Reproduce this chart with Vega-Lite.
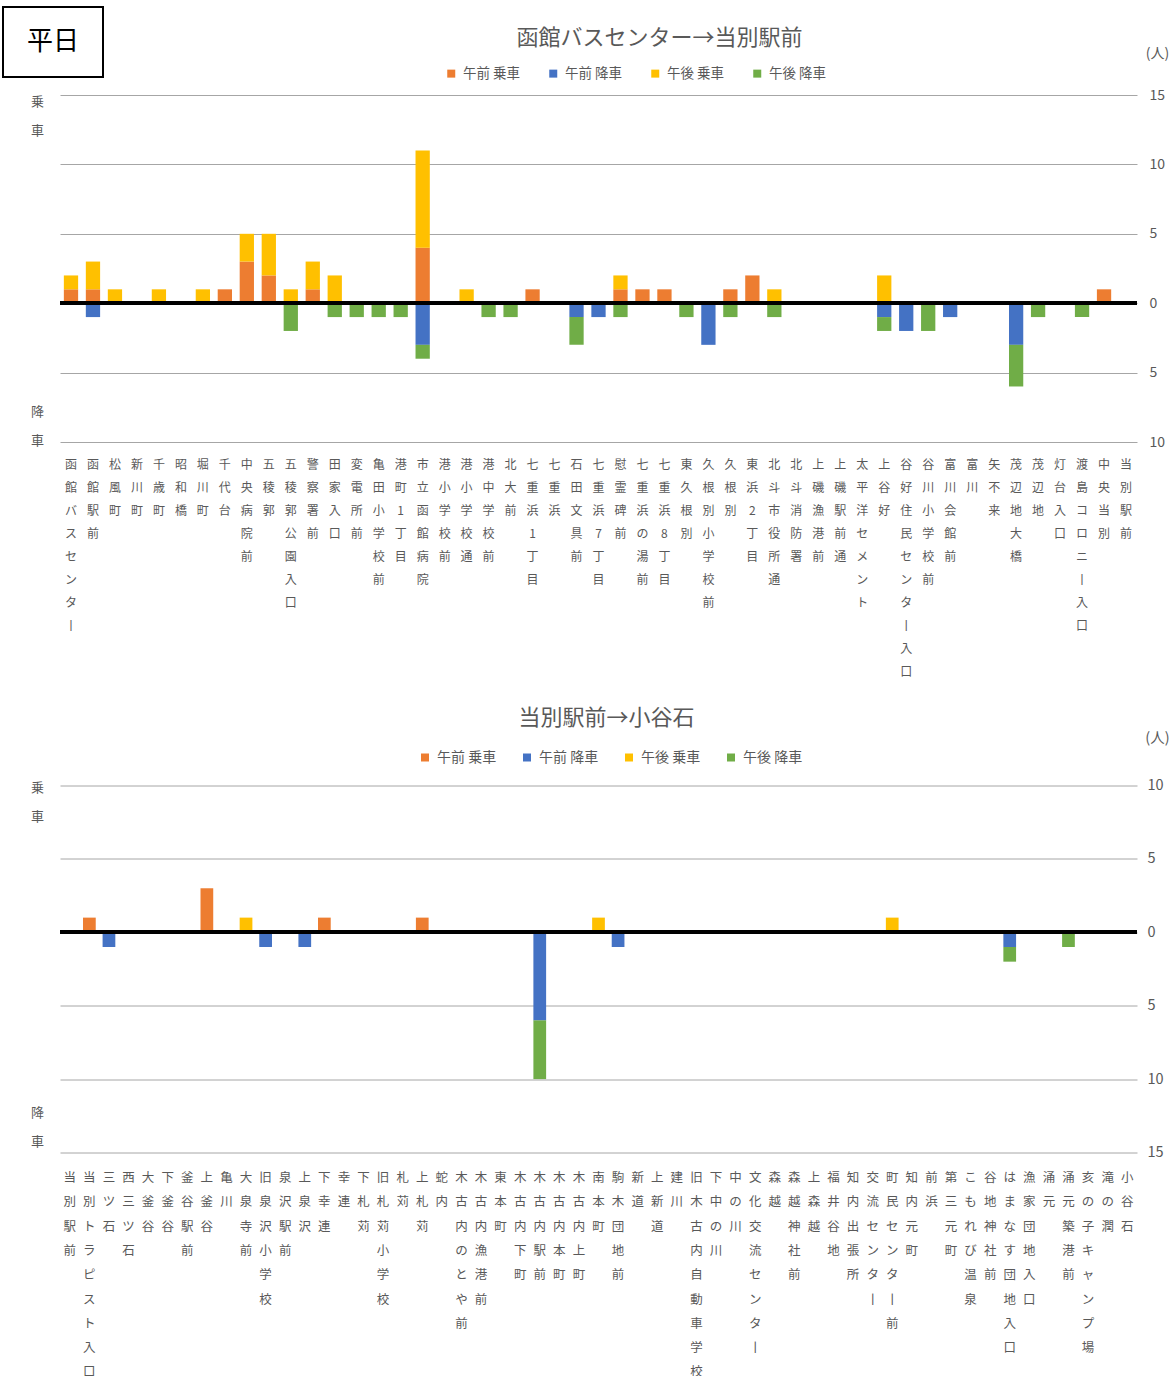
{
  "$schema": "https://vega.github.io/schema/vega-lite/v6.json",
  "background": "white",
  "padding": {"left": 2, "top": 6, "right": 0, "bottom": 0},
  "config": {
    "view": {"stroke": null},
    "font": "Noto Sans CJK JP",
    "axis": {"labelFont": "Noto Sans CJK JP", "titleFont": "Noto Sans CJK JP", "labelColor": "#595959", "titleColor": "#595959"},
    "legend": {"labelFont": "Noto Sans CJK JP", "labelColor": "#595959"},
    "title": {"font": "Noto Sans CJK JP", "fontSize": 22, "color": "#595959", "fontWeight": "normal", "anchor": "middle", "frame": "group"}
  },
  "datasets": {
    "outbound": [
      {"station": "函館バスセンター", "am_on": 1, "am_off": 0, "pm_on": 1, "pm_off": 0},
      {"station": "函館駅前", "am_on": 1, "am_off": -1, "pm_on": 2, "pm_off": 0},
      {"station": "松風町", "am_on": 0, "am_off": 0, "pm_on": 1, "pm_off": 0},
      {"station": "新川町", "am_on": 0, "am_off": 0, "pm_on": 0, "pm_off": 0},
      {"station": "千歳町", "am_on": 0, "am_off": 0, "pm_on": 1, "pm_off": 0},
      {"station": "昭和橋", "am_on": 0, "am_off": 0, "pm_on": 0, "pm_off": 0},
      {"station": "堀川町", "am_on": 0, "am_off": 0, "pm_on": 1, "pm_off": 0},
      {"station": "千代台", "am_on": 1, "am_off": 0, "pm_on": 0, "pm_off": 0},
      {"station": "中央病院前", "am_on": 3, "am_off": 0, "pm_on": 2, "pm_off": 0},
      {"station": "五稜郭", "am_on": 2, "am_off": 0, "pm_on": 3, "pm_off": 0},
      {"station": "五稜郭公園入口", "am_on": 0, "am_off": 0, "pm_on": 1, "pm_off": -2},
      {"station": "警察署前", "am_on": 1, "am_off": 0, "pm_on": 2, "pm_off": 0},
      {"station": "田家入口", "am_on": 0, "am_off": 0, "pm_on": 2, "pm_off": -1},
      {"station": "変電所前", "am_on": 0, "am_off": 0, "pm_on": 0, "pm_off": -1},
      {"station": "亀田小学校前", "am_on": 0, "am_off": 0, "pm_on": 0, "pm_off": -1},
      {"station": "港町1丁目", "am_on": 0, "am_off": 0, "pm_on": 0, "pm_off": -1},
      {"station": "市立函館病院", "am_on": 4, "am_off": -3, "pm_on": 7, "pm_off": -1},
      {"station": "港小学校前", "am_on": 0, "am_off": 0, "pm_on": 0, "pm_off": 0},
      {"station": "港小学校通", "am_on": 0, "am_off": 0, "pm_on": 1, "pm_off": 0},
      {"station": "港中学校前", "am_on": 0, "am_off": 0, "pm_on": 0, "pm_off": -1},
      {"station": "北大前", "am_on": 0, "am_off": 0, "pm_on": 0, "pm_off": -1},
      {"station": "七重浜1丁目", "am_on": 1, "am_off": 0, "pm_on": 0, "pm_off": 0},
      {"station": "七重浜", "am_on": 0, "am_off": 0, "pm_on": 0, "pm_off": 0},
      {"station": "石田文具前", "am_on": 0, "am_off": -1, "pm_on": 0, "pm_off": -2},
      {"station": "七重浜7丁目", "am_on": 0, "am_off": -1, "pm_on": 0, "pm_off": 0},
      {"station": "慰霊碑前", "am_on": 1, "am_off": 0, "pm_on": 1, "pm_off": -1},
      {"station": "七重浜の湯前", "am_on": 1, "am_off": 0, "pm_on": 0, "pm_off": 0},
      {"station": "七重浜8丁目", "am_on": 1, "am_off": 0, "pm_on": 0, "pm_off": 0},
      {"station": "東久根別", "am_on": 0, "am_off": 0, "pm_on": 0, "pm_off": -1},
      {"station": "久根別小学校前", "am_on": 0, "am_off": -3, "pm_on": 0, "pm_off": 0},
      {"station": "久根別", "am_on": 1, "am_off": 0, "pm_on": 0, "pm_off": -1},
      {"station": "東浜2丁目", "am_on": 2, "am_off": 0, "pm_on": 0, "pm_off": 0},
      {"station": "北斗市役所通", "am_on": 0, "am_off": 0, "pm_on": 1, "pm_off": -1},
      {"station": "北斗消防署", "am_on": 0, "am_off": 0, "pm_on": 0, "pm_off": 0},
      {"station": "上磯漁港前", "am_on": 0, "am_off": 0, "pm_on": 0, "pm_off": 0},
      {"station": "上磯駅前通", "am_on": 0, "am_off": 0, "pm_on": 0, "pm_off": 0},
      {"station": "太平洋セメント", "am_on": 0, "am_off": 0, "pm_on": 0, "pm_off": 0},
      {"station": "上谷好", "am_on": 0, "am_off": -1, "pm_on": 2, "pm_off": -1},
      {"station": "谷好住民センター入口", "am_on": 0, "am_off": -2, "pm_on": 0, "pm_off": 0},
      {"station": "谷川小学校前", "am_on": 0, "am_off": 0, "pm_on": 0, "pm_off": -2},
      {"station": "富川会館前", "am_on": 0, "am_off": -1, "pm_on": 0, "pm_off": 0},
      {"station": "富川", "am_on": 0, "am_off": 0, "pm_on": 0, "pm_off": 0},
      {"station": "矢不来", "am_on": 0, "am_off": 0, "pm_on": 0, "pm_off": 0},
      {"station": "茂辺地大橋", "am_on": 0, "am_off": -3, "pm_on": 0, "pm_off": -3},
      {"station": "茂辺地", "am_on": 0, "am_off": 0, "pm_on": 0, "pm_off": -1},
      {"station": "灯台入口", "am_on": 0, "am_off": 0, "pm_on": 0, "pm_off": 0},
      {"station": "渡島コロニー入口", "am_on": 0, "am_off": 0, "pm_on": 0, "pm_off": -1},
      {"station": "中央当別", "am_on": 1, "am_off": 0, "pm_on": 0, "pm_off": 0},
      {"station": "当別駅前", "am_on": 0, "am_off": 0, "pm_on": 0, "pm_off": 0}
    ],
    "inbound": [
      {"station": "当別駅前", "am_on": 0, "am_off": 0, "pm_on": 0, "pm_off": 0},
      {"station": "当別トラピスト入口", "am_on": 1, "am_off": 0, "pm_on": 0, "pm_off": 0},
      {"station": "三ツ石", "am_on": 0, "am_off": -1, "pm_on": 0, "pm_off": 0},
      {"station": "西三ツ石", "am_on": 0, "am_off": 0, "pm_on": 0, "pm_off": 0},
      {"station": "大釜谷", "am_on": 0, "am_off": 0, "pm_on": 0, "pm_off": 0},
      {"station": "下釜谷", "am_on": 0, "am_off": 0, "pm_on": 0, "pm_off": 0},
      {"station": "釜谷駅前", "am_on": 0, "am_off": 0, "pm_on": 0, "pm_off": 0},
      {"station": "上釜谷", "am_on": 3, "am_off": 0, "pm_on": 0, "pm_off": 0},
      {"station": "亀川", "am_on": 0, "am_off": 0, "pm_on": 0, "pm_off": 0},
      {"station": "大泉寺前", "am_on": 0, "am_off": 0, "pm_on": 1, "pm_off": 0},
      {"station": "旧泉沢小学校", "am_on": 0, "am_off": -1, "pm_on": 0, "pm_off": 0},
      {"station": "泉沢駅前", "am_on": 0, "am_off": 0, "pm_on": 0, "pm_off": 0},
      {"station": "上泉沢", "am_on": 0, "am_off": -1, "pm_on": 0, "pm_off": 0},
      {"station": "下幸連", "am_on": 1, "am_off": 0, "pm_on": 0, "pm_off": 0},
      {"station": "幸連", "am_on": 0, "am_off": 0, "pm_on": 0, "pm_off": 0},
      {"station": "下札苅", "am_on": 0, "am_off": 0, "pm_on": 0, "pm_off": 0},
      {"station": "旧札苅小学校", "am_on": 0, "am_off": 0, "pm_on": 0, "pm_off": 0},
      {"station": "札苅", "am_on": 0, "am_off": 0, "pm_on": 0, "pm_off": 0},
      {"station": "上札苅", "am_on": 1, "am_off": 0, "pm_on": 0, "pm_off": 0},
      {"station": "蛇内", "am_on": 0, "am_off": 0, "pm_on": 0, "pm_off": 0},
      {"station": "木古内のとや前", "am_on": 0, "am_off": 0, "pm_on": 0, "pm_off": 0},
      {"station": "木古内漁港前", "am_on": 0, "am_off": 0, "pm_on": 0, "pm_off": 0},
      {"station": "東本町", "am_on": 0, "am_off": 0, "pm_on": 0, "pm_off": 0},
      {"station": "木古内下町", "am_on": 0, "am_off": 0, "pm_on": 0, "pm_off": 0},
      {"station": "木古内駅前", "am_on": 0, "am_off": -6, "pm_on": 0, "pm_off": -4},
      {"station": "木古内本町", "am_on": 0, "am_off": 0, "pm_on": 0, "pm_off": 0},
      {"station": "木古内上町", "am_on": 0, "am_off": 0, "pm_on": 0, "pm_off": 0},
      {"station": "南本町", "am_on": 0, "am_off": 0, "pm_on": 1, "pm_off": 0},
      {"station": "駒木団地前", "am_on": 0, "am_off": -1, "pm_on": 0, "pm_off": 0},
      {"station": "新道", "am_on": 0, "am_off": 0, "pm_on": 0, "pm_off": 0},
      {"station": "上新道", "am_on": 0, "am_off": 0, "pm_on": 0, "pm_off": 0},
      {"station": "建川", "am_on": 0, "am_off": 0, "pm_on": 0, "pm_off": 0},
      {"station": "旧木古内自動車学校", "am_on": 0, "am_off": 0, "pm_on": 0, "pm_off": 0},
      {"station": "下中の川", "am_on": 0, "am_off": 0, "pm_on": 0, "pm_off": 0},
      {"station": "中の川", "am_on": 0, "am_off": 0, "pm_on": 0, "pm_off": 0},
      {"station": "文化交流センター", "am_on": 0, "am_off": 0, "pm_on": 0, "pm_off": 0},
      {"station": "森越", "am_on": 0, "am_off": 0, "pm_on": 0, "pm_off": 0},
      {"station": "森越神社前", "am_on": 0, "am_off": 0, "pm_on": 0, "pm_off": 0},
      {"station": "上森越", "am_on": 0, "am_off": 0, "pm_on": 0, "pm_off": 0},
      {"station": "福井谷地", "am_on": 0, "am_off": 0, "pm_on": 0, "pm_off": 0},
      {"station": "知内出張所", "am_on": 0, "am_off": 0, "pm_on": 0, "pm_off": 0},
      {"station": "交流センター", "am_on": 0, "am_off": 0, "pm_on": 0, "pm_off": 0},
      {"station": "町民センター前", "am_on": 0, "am_off": 0, "pm_on": 1, "pm_off": 0},
      {"station": "知内元町", "am_on": 0, "am_off": 0, "pm_on": 0, "pm_off": 0},
      {"station": "前浜", "am_on": 0, "am_off": 0, "pm_on": 0, "pm_off": 0},
      {"station": "第三元町", "am_on": 0, "am_off": 0, "pm_on": 0, "pm_off": 0},
      {"station": "こもれび温泉", "am_on": 0, "am_off": 0, "pm_on": 0, "pm_off": 0},
      {"station": "谷地神社前", "am_on": 0, "am_off": 0, "pm_on": 0, "pm_off": 0},
      {"station": "はまなす団地入口", "am_on": 0, "am_off": -1, "pm_on": 0, "pm_off": -1},
      {"station": "漁家団地入口", "am_on": 0, "am_off": 0, "pm_on": 0, "pm_off": 0},
      {"station": "涌元", "am_on": 0, "am_off": 0, "pm_on": 0, "pm_off": 0},
      {"station": "涌元築港前", "am_on": 0, "am_off": 0, "pm_on": 0, "pm_off": -1},
      {"station": "亥の子キャンプ場", "am_on": 0, "am_off": 0, "pm_on": 0, "pm_off": 0},
      {"station": "滝の潤", "am_on": 0, "am_off": 0, "pm_on": 0, "pm_off": 0},
      {"station": "小谷石", "am_on": 0, "am_off": 0, "pm_on": 0, "pm_off": 0}
    ]
  },
  "concat": [
    {
      "width": 100,
      "height": 70,
      "view": {"stroke": "black", "strokeWidth": 2},
      "data": {"values": [{"label": "平日"}]},
      "mark": {"type": "text", "fontSize": 26, "color": "black", "font": "Noto Sans CJK JP"},
      "encoding": {"text": {"field": "label", "type": "nominal"}}
    },
    {
      "vconcat": [
        {
          "width": 1077,
          "height": 1,
          "data": {"values": []},
          "mark": "text",
          "encoding": {}
        },
        {
          "vconcat": [
            {
              "width": 1077,
              "height": 347,
              "data": {"name": "outbound"},
              "transform": [{"fold": ["am_on", "am_off", "pm_on", "pm_off"], "as": ["series", "value"]}],
              "title": {"text": "函館バスセンター→当別駅前", "dx": 61, "offset": -3.5},
              "layer": [
                {
                  "mark": {"type": "bar"},
                  "encoding": {
                    "x": {
                      "field": "station", "type": "nominal", "sort": null,
                      "scale": {"paddingInner": 0.35, "paddingOuter": 0.175},
                      "axis": {"title": null, "labelAngle": 0, "labelExpr": "split(replace(datum.label, 'ー', '丨'), '')", "labelFontSize": 12, "labelLineHeight": 23, "labelPadding": 17.5, "labelBaseline": "top", "labelOverlap": false, "domain": false, "ticks": false, "tickSize": 0}
                    },
                    "y": {
                      "field": "value", "type": "quantitative",
                      "scale": {"domain": [-10, 15], "nice": false},
                      "axis": {"orient": "right", "values": [-10, -5, 0, 5, 10, 15], "labelExpr": "abs(datum.value)", "grid": true, "gridColor": "#a6a6a6", "domain": false, "ticks": false, "tickSize": 0, "labelPadding": 12, "labelFontSize": 14, "title": "(人)", "titleAngle": 0, "titleX": 20, "titleY": -42, "titleAlign": "center", "titleBaseline": "middle", "titleFontSize": 14, "titleFontWeight": "normal"}
                    },
                    "order": {"field": "series", "sort": "ascending"},
                    "color": {
                      "field": "series", "type": "nominal",
                      "scale": {"domain": ["am_on", "am_off", "pm_on", "pm_off"], "range": ["#ED7D31", "#4472C4", "#FFC000", "#70AD47"]},
                      "legend": {"orient": "none", "legendX": 384.5, "legendY": -28.5, "direction": "horizontal", "title": null, "symbolType": "square", "symbolSize": 64, "symbolStrokeWidth": 0, "labelFontSize": 13.5, "columnPadding": 26, "labelOffset": 5, "padding": 0, "labelExpr": "datum.label == 'am_on' ? '午前 乗車' : datum.label == 'am_off' ? '午前 降車' : datum.label == 'pm_on' ? '午後 乗車' : '午後 降車'"}
                    }
                  }
                },
                {
                  "mark": {"type": "rule", "color": "black", "strokeWidth": 3},
                  "encoding": {
                    "y": {"datum": 0, "type": "quantitative", "scale": {"domain": [-10, 15], "nice": false}, "axis": {"orient": "left", "values": [14.55, -7.78], "labelExpr": "datum.value > 0 ? ['乗','車'] : ['降','車']", "grid": false, "domain": false, "ticks": false, "tickSize": 0, "labelAlign": "center", "labelPadding": 23, "labelLineHeight": 29, "labelFontSize": 13, "labelBaseline": "middle", "title": null}}
                  }
                }
              ],
              "resolve": {"axis": {"y": "independent"}}
            },
            {
              "width": 1077,
              "height": 367,
              "data": {"name": "inbound"},
              "transform": [{"fold": ["am_on", "am_off", "pm_on", "pm_off"], "as": ["series", "value"]}],
              "title": {"text": "当別駅前→小谷石", "dx": 8, "offset": 1},
              "layer": [
                {
                  "mark": {"type": "bar"},
                  "encoding": {
                    "x": {
                      "field": "station", "type": "nominal", "sort": null,
                      "scale": {"paddingInner": 0.35, "paddingOuter": 0.175},
                      "axis": {"title": null, "labelAngle": 0, "labelExpr": "split(replace(datum.label, 'ー', '丨'), '')", "labelFontSize": 12.5, "labelLineHeight": 24.3, "labelPadding": 19, "labelBaseline": "top", "labelOverlap": false, "domain": false, "ticks": false, "tickSize": 0}
                    },
                    "y": {
                      "field": "value", "type": "quantitative",
                      "scale": {"domain": [-15, 10], "nice": false},
                      "axis": {"orient": "right", "values": [-15, -10, -5, 0, 5, 10], "labelExpr": "abs(datum.value)", "grid": true, "gridColor": "#a6a6a6", "domain": false, "ticks": false, "tickSize": 0, "labelPadding": 10, "labelFontSize": 14.5, "title": "(人)", "titleAngle": 0, "titleX": 20, "titleY": -47, "titleAlign": "center", "titleBaseline": "middle", "titleFontSize": 14.5, "titleFontWeight": "normal"}
                    },
                    "order": {"field": "series", "sort": "ascending"},
                    "color": {
                      "field": "series", "type": "nominal",
                      "scale": {"domain": ["am_on", "am_off", "pm_on", "pm_off"], "range": ["#ED7D31", "#4472C4", "#FFC000", "#70AD47"]},
                      "legend": {"orient": "none", "legendX": 358, "legendY": -35, "direction": "horizontal", "title": null, "symbolType": "square", "symbolSize": 64, "symbolStrokeWidth": 0, "labelFontSize": 14, "columnPadding": 23, "labelOffset": 5, "padding": 0, "labelExpr": "datum.label == 'am_on' ? '午前 乗車' : datum.label == 'am_off' ? '午前 降車' : datum.label == 'pm_on' ? '午後 乗車' : '午後 降車'"}
                    }
                  }
                },
                {
                  "mark": {"type": "rule", "color": "black", "strokeWidth": 3},
                  "encoding": {
                    "y": {"datum": 0, "type": "quantitative", "scale": {"domain": [-15, 10], "nice": false}, "axis": {"orient": "left", "values": [9.88, -12.26], "labelExpr": "datum.value > 0 ? ['乗','車'] : ['降','車']", "grid": false, "domain": false, "ticks": false, "tickSize": 0, "labelAlign": "center", "labelPadding": 23, "labelLineHeight": 29, "labelFontSize": 13, "labelBaseline": "middle", "title": null}}
                  }
                }
              ],
              "resolve": {"axis": {"y": "independent"}}
            }
          ],
          "spacing": 28.5,
          "resolve": {"scale": {"color": "independent"}, "legend": {"color": "independent"}}
        }
      ],
      "spacing": 18
    }
  ],
  "columns": 2,
  "align": "none",
  "spacing": -74
}
